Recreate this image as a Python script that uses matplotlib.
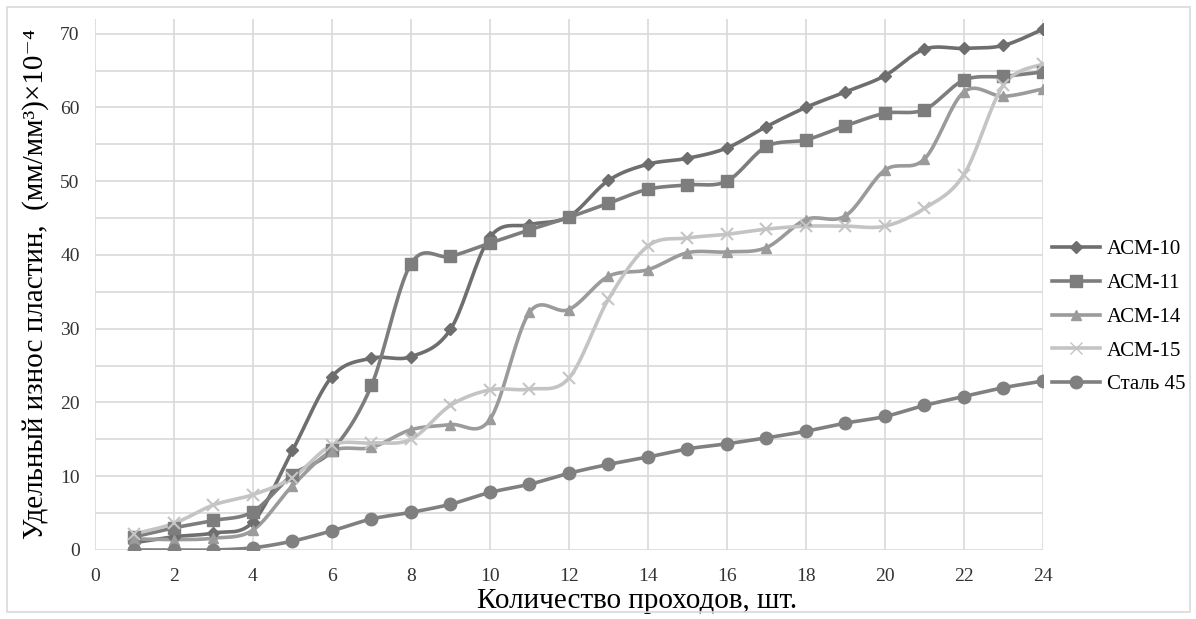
import numpy as np
import matplotlib
matplotlib.use("Agg")
import matplotlib.pyplot as plt
from matplotlib.lines import Line2D
from matplotlib.patches import Rectangle

plt.rcParams['font.family'] = ['Liberation Serif', 'DejaVu Serif']

# data
passes = list(range(1, 25))
acm10 = [1.0, 1.8, 2.3, 3.8, 13.5, 23.5, 26.0, 26.2, 29.9, 42.4, 44.1, 45.2,
         50.1, 52.3, 53.1, 54.5, 57.4, 60.0, 62.1, 64.3, 67.9, 68.0, 68.4, 70.6]
acm11 = [1.8, 3.0, 4.0, 5.2, 10.2, 13.5, 22.3, 38.8, 39.8, 41.6, 43.4, 45.1,
         47.0, 48.9, 49.5, 50.0, 54.7, 55.6, 57.5, 59.2, 59.7, 63.7, 64.2, 64.8]
acm14 = [1.5, 1.4, 1.6, 2.7, 8.7, 13.4, 13.9, 16.3, 17.0, 17.7, 32.2, 32.6,
         37.1, 38.0, 40.3, 40.4, 41.0, 44.8, 45.3, 51.5, 53.0, 62.1, 61.5, 62.5]
acm15 = [2.2, 3.6, 6.1, 7.5, 9.8, 14.2, 14.5, 15.0, 19.6, 21.7, 21.8, 23.3,
         34.0, 41.2, 42.3, 42.8, 43.5, 43.9, 43.9, 43.9, 46.3, 50.9, 63.0, 65.9]
steel45 = [0.0, 0.0, 0.0, 0.3, 1.2, 2.6, 4.2, 5.1, 6.2, 7.8, 8.9, 10.4,
           11.6, 12.6, 13.7, 14.4, 15.2, 16.1, 17.2, 18.1, 19.6, 20.8, 22.0, 22.9]
labels = ['АСМ-10', 'АСМ-11', 'АСМ-14', 'АСМ-15', 'Сталь 45']


def smooth(x, y, n=20):
    # excel-like smoothed line: cubic bezier, catmull-rom control points
    x = np.asarray(x, float)
    y = np.asarray(y, float)
    px = np.concatenate([[x[0]], x, [x[-1]]])
    py = np.concatenate([[y[0]], y, [y[-1]]])
    t = np.linspace(0, 1, n)[:, None]
    xs, ys = [], []
    for i in range(1, len(px) - 2):
        p0 = np.array([px[i], py[i]])
        p3 = np.array([px[i + 1], py[i + 1]])
        p1 = p0 + (np.array([px[i + 1], py[i + 1]]) - np.array([px[i - 1], py[i - 1]])) / 6
        p2 = p3 - (np.array([px[i + 2], py[i + 2]]) - np.array([px[i], py[i]])) / 6
        b = ((1 - t) ** 3) * p0 + 3 * ((1 - t) ** 2) * t * p1 + 3 * (1 - t) * t ** 2 * p2 + t ** 3 * p3
        xs.append(b[:, 0])
        ys.append(b[:, 1])
    return np.concatenate(xs), np.concatenate(ys)


series = [acm10, acm11, acm14, acm15, steel45]
colors = ['#6e6e6e', '#7d7d7d', '#9b9b9b', '#c4c4c4', '#808080']
markers = ['D', 's', '^', 'x', 'o']
msizes = [6, 8.5, 7, 8, 9]

fig = plt.figure(figsize=(11.96, 6.19), dpi=100)
fig.patches.append(Rectangle((0.006, 0.011), 0.989, 0.978, transform=fig.transFigure,
                             fill=False, edgecolor='#d9d9d9', linewidth=1.2))
ax = fig.add_axes([0.0794, 0.1115, 0.7926, 0.858])

handles = []
for ys, c, m, ms, lab in zip(series, colors, markers, msizes, labels):
    sx, sy = smooth(passes, ys)
    ax.plot(sx, sy, color=c, linewidth=2.6, zorder=3)
    ax.plot(passes, ys, linestyle='none', marker=m, markersize=ms, color=c,
            markeredgecolor=c, markeredgewidth=1.5 if m == 'x' else 1, zorder=4)
    handles.append(Line2D([], [], color=c, linewidth=2.6, marker=m, markersize=ms,
                          markeredgecolor=c, label=lab))

ax.set_xlim(0, 24)
ax.set_ylim(0, 72)
ax.set_xticks(range(0, 25, 2))
ax.set_yticks(range(0, 71, 10))
ax.set_yticks(range(0, 71, 5), minor=True)
ax.grid(True, which='both', color='#d9d9d9', linewidth=1.2, zorder=0)
ax.set_axisbelow(True)
for s in ax.spines.values():
    s.set_visible(False)
ax.tick_params(which='both', length=0, labelsize=14, colors='#333333')
ax.tick_params(axis='x', pad=13)
ax.tick_params(axis='y', pad=11)

ax.set_xlabel('Количество проходов, шт.', fontsize=21, va='center')
ax.xaxis.set_label_coords(0.572, -0.096)
ax.set_ylabel('Удельный износ пластин,  (мм/мм³)×10⁻⁴', fontsize=21, va='center')
ax.yaxis.set_label_coords(-0.063, 0.5)

fig.legend(handles=handles, loc='upper left', bbox_to_anchor=(0.873, 0.626),
           frameon=False, fontsize=15, handlelength=2.3, handletextpad=0.3,
           labelspacing=0.68, borderaxespad=0)

fig.savefig('out.png', dpi=100)
